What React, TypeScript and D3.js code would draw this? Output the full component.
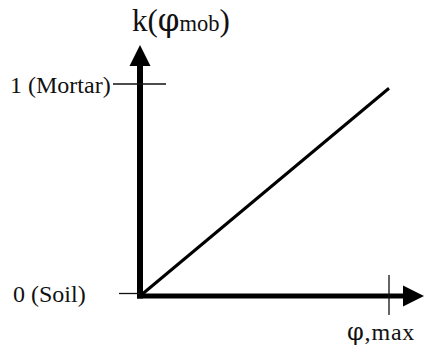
import React from "react";
import * as d3 from "d3";

// ---- data ----
const lineX: number[] = [0, 1.0];
const lineY: number[] = [0, 0.98];
const yTickValues: number[] = [0, 1];
const yTickLabels: string[] = ["0 (Soil)", "1 (Mortar)"];
const xTickValues: number[] = [1];
const xTickLabels: string[] = ["φ,max"];
const titleMain = "k(φ";
const titleSub = "mob";
const titleEnd = ")";

// ---- layout ----
const W = 425;
const H = 345;
const FONT = "'Liberation Serif', 'Times New Roman', serif";
const GREEK = "'DejaVu Serif', serif";

function withGreek(s: string, key: string) {
  const parts = s.split(/(φ)/);
  return parts.map((p, i) =>
    p === "φ" ? (
      <tspan key={key + i} fontFamily={GREEK}>
        {p}
      </tspan>
    ) : (
      <tspan key={key + i}>{p}</tspan>
    )
  );
}

export default function App() {
  const x = d3.scaleLinear().domain([0, 1]).range([140, 389]);
  const y = d3.scaleLinear().domain([0, 1]).range([296, 84]);

  const ox = x(0);
  const oy = y(0);
  const yAxisTop = 45; // arrow tip
  const xAxisRight = 424; // arrow tip
  const head = 21;
  const halfHead = 10.5;

  const lineGen = d3
    .line<number>()
    .x((_, i) => x(lineX[i]))
    .y((_, i) => y(lineY[i]));

  const yLabelPos = [
    { x: 13, dy: 6, t0: -21, t1: 0, off: -2.5 },
    { x: 10, dy: 9, t0: -27, t1: 26, off: 0 },
  ];

  return (
    <svg
      width={W}
      height={H}
      style={{ position: "absolute", left: 0, top: 0, background: "#fff" }}
      fontFamily={FONT}
    >
      <rect width={W} height={H} fill="#fff" />
      {/* diagonal */}
      <path d={lineGen(lineX) || ""} stroke="#000" strokeWidth={3} fill="none" />
      {/* y axis */}
      <line x1={ox} x2={ox} y1={oy + 2.5} y2={yAxisTop + head - 1} stroke="#000" strokeWidth={6} />
      <path
        d={`M${ox},${yAxisTop} L${ox - halfHead},${yAxisTop + head} L${ox + halfHead},${yAxisTop + head} Z`}
        fill="#000"
      />
      {/* x axis */}
      <line x1={ox - 3} x2={xAxisRight - head + 1} y1={oy} y2={oy} stroke="#000" strokeWidth={5} />
      <path
        d={`M${xAxisRight},${oy} L${xAxisRight - head},${oy - halfHead} L${xAxisRight - head},${oy + halfHead} Z`}
        fill="#000"
      />
      {/* y ticks */}
      {yTickValues.map((v, i) => {
        const p = yLabelPos[i];
        const ty = y(v) + p.off;
        return (
          <g key={"yt" + i}>
            <line x1={ox + p.t0} x2={ox + p.t1} y1={ty} y2={ty} stroke="#111" strokeWidth={1.3} />
            <text x={p.x} y={y(v) + p.dy} fontSize={24} fill="#111">
              {yTickLabels[i]}
            </text>
          </g>
        );
      })}
      {/* x ticks */}
      {xTickValues.map((v, i) => (
        <g key={"xt" + i}>
          <line x1={x(v)} x2={x(v)} y1={oy - 21} y2={oy + 19} stroke="#111" strokeWidth={1.3} />
          <text x={x(v) - 42} y={340} fontSize={24} letterSpacing={0.8} fill="#111">
            {withGreek(xTickLabels[i], "xl" + i)}
          </text>
        </g>
      ))}
      {/* title */}
      <text x={132} y={31} fontSize={31} fill="#111">
        {withGreek(titleMain, "t")}
        <tspan fontSize={22.5}>{titleSub}</tspan>
        {titleEnd}
      </text>
    </svg>
  );
}
